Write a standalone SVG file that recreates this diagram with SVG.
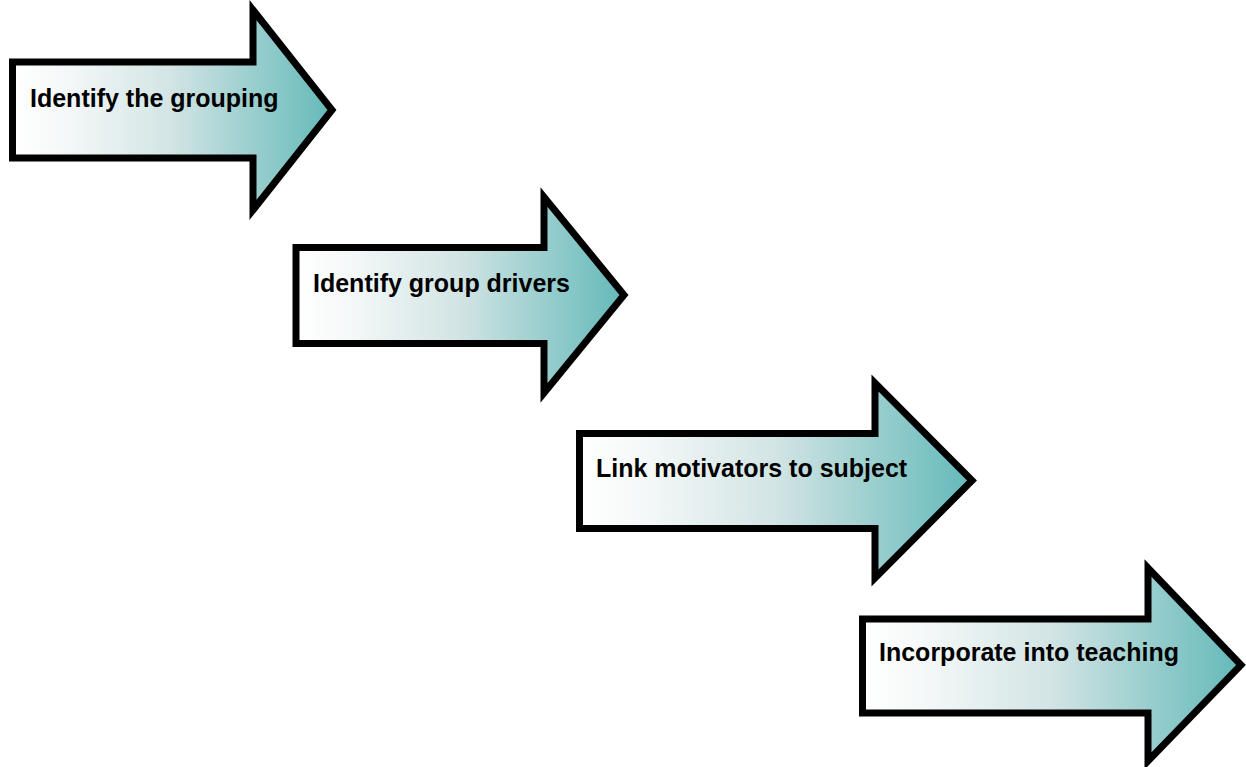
<svg xmlns="http://www.w3.org/2000/svg" width="1246" height="767" viewBox="0 0 1246 767">
<defs>
<linearGradient id="g" x1="0" y1="0" x2="1" y2="0">
<stop offset="0" stop-color="#ffffff"/>
<stop offset="0.15" stop-color="#f6f9f9"/>
<stop offset="0.5" stop-color="#d2e4e4"/>
<stop offset="1" stop-color="#64b9b9"/>
</linearGradient>
</defs>
<style>
.arr{fill:url(#g);stroke:#000;stroke-width:7;stroke-linejoin:miter;stroke-miterlimit:10}
.lbl{font-family:"Liberation Sans",Arial,sans-serif;font-weight:bold;font-size:25px;fill:#000}
</style>
<rect width="1246" height="767" fill="#fff"/>
<g id="connectors"></g>
<g id="n1">
<path class="arr" d="M12.5,62 H253 V10 L332,110 L253,210 V158 H12.5 Z"/>
<text class="lbl" x="30" y="107">Identify the grouping</text>
</g>
<g id="n2">
<path class="arr" d="M296,247.5 H544 V197 L624,295 L544,393 V343.5 H296 Z"/>
<text class="lbl" x="313" y="292">Identify group drivers</text>
</g>
<g id="n3">
<path class="arr" d="M579.5,433.5 H875 V383 L972,480.5 L875,578 V528.5 H579.5 Z"/>
<text class="lbl" x="596" y="477">Link motivators to subject</text>
</g>
<g id="n4">
<path class="arr" d="M862.5,619 H1148 V568 L1241,665 L1148,761 V713 H862.5 Z"/>
<text class="lbl" x="879" y="661">Incorporate into teaching</text>
</g>
</svg>
